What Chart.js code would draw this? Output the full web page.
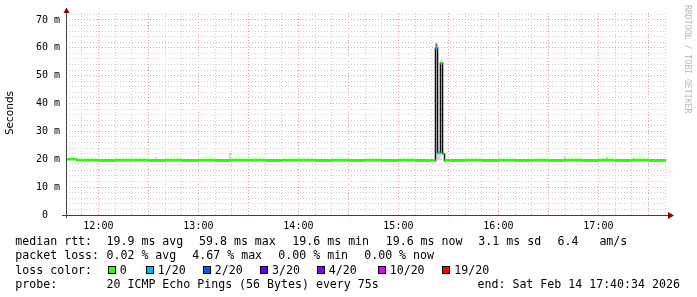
<!DOCTYPE html>
<html>
<head>
<meta charset="utf-8">
<script src="https://cdn.jsdelivr.net/npm/chart.js@4.4.1/dist/chart.umd.min.js"></script>
<style>
body { margin: 0; background: #fff; }
#wrap { position: relative; width: 697px; height: 297px; overflow: hidden; background: #fff; }
#grafico { position: absolute; left: 0; top: 0; }
.leg { position: absolute; font-family: 'DejaVu Sans Mono', monospace; font-size: 11.6px; line-height: 14px; color: #000; white-space: pre; }
.caixa { position: absolute; width: 6px; height: 6px; border: 1px solid #000; }
</style>
</head>
<body>
<div id="wrap">
    <canvas id="grafico" width="697" height="297"></canvas>
</div>
<script>
// janela do gráfico (6 horas)
const horaInicio = '11:40:34';
const horaFim = '17:40:34';

// mediana do rtt (ms) e pings perdidos (de 20), valor vale até a próxima hora
const medianaHoras = [
    '11:40:34', '11:47:00', '11:50:00', '12:00:00', '12:10:00', '12:20:00', '12:30:00', '12:40:00',
    '12:50:00', '13:00:00', '13:10:00', '13:20:00', '13:30:00', '13:40:00', '13:50:00', '14:00:00',
    '14:10:00', '14:20:00', '14:30:00', '14:40:00', '14:50:00', '15:00:00', '15:10:00', '15:20:00',
    '15:22:15', '15:23:30', '15:25:15', '15:26:30', '15:27:40', '15:30:00', '15:40:00', '15:50:00',
    '16:00:00', '16:10:00', '16:20:00', '16:30:00', '16:40:00', '16:50:00', '17:00:00', '17:10:00',
    '17:20:00', '17:30:00', '17:40:34'
];
const medianaValores = [
    20.0, 19.7, 19.7, 19.6, 19.7, 19.7, 19.6, 19.7,
    19.6, 19.7, 19.6, 19.7, 19.7, 19.6, 19.7, 19.7,
    19.6, 19.7, 19.6, 19.7, 19.6, 19.7, 19.6, 19.6,
    59.8, 22.4, 54.5, 22.0, 19.6, 19.6, 19.7, 19.6,
    19.7, 19.6, 19.7, 19.6, 19.7, 19.6, 19.7, 19.6,
    19.7, 19.6, 19.6
];
const medianaPerda = [
    0, 0, 0, 0, 0, 0, 0, 0,
    0, 0, 0, 0, 0, 0, 0, 0,
    0, 0, 0, 0, 0, 0, 0, 0,
    1, 1, 0, 0, 0, 0, 0, 0,
    0, 0, 0, 0, 0, 0, 0, 0,
    0, 0, 0
];

// "fumaça" (dispersão dos pings)
const fumacaClaraHoras = ['11:46:00', '12:34:30', '13:19:00', '15:22:50', '15:23:50', '15:24:50', '15:25:50', '16:39:40', '17:05:10', '17:21:20'];
const fumacaClaraMin = [19.9, 19.9, 20.0, 19.6, 19.6, 19.6, 54.5, 20.0, 19.9, 19.9];
const fumacaClaraMax = [20.5, 20.8, 22.3, 22.4, 22.4, 22.4, 55.6, 21.2, 20.8, 20.6];
const fumacaEscuraHoras = ['15:22:50'];
const fumacaEscuraMin = [59.8];
const fumacaEscuraMax = [61.6];

// eixos
const eixoXRotulos = ['12:00', '13:00', '14:00', '15:00', '16:00', '17:00'];
const eixoYRotulos = ['0  ', '10 m', '20 m', '30 m', '40 m', '50 m', '60 m', '70 m'];

// legenda
const perdaNiveis = [0, 1, 2, 3, 4, 10, 19];
const perdaRotulos = ['0', '1/20', '2/20', '3/20', '4/20', '10/20', '19/20'];
const perdaCores = ['#26ff00', '#00b8ff', '#0059ff', '#5e00ff', '#7e00ff', '#dd00ff', '#ff0000'];
const legendaMediana = ['median rtt:', '19.9 ms avg', '59.8 ms max', '19.6 ms min', '19.6 ms now', '3.1 ms sd', '6.4   am/s'];
const legendaPacotes = ['packet loss:', '0.02 % avg', '4.67 % max', '0.00 % min', '0.00 % now'];
const legendaSonda = ['probe:', '20 ICMP Echo Pings (56 Bytes) every 75s', 'end: Sat Feb 14 17:40:34 2026'];

function segundos(h) {
    const p = h.split(':').map(Number);
    return p[0] * 3600 + p[1] * 60 + (p[2] || 0);
}

function corDaPerda(perda) {
    let k = 0;
    perdaNiveis.forEach((n, i) => { if (perda >= n) k = i; });
    return k;
}

const inicio = segundos(horaInicio);
const fim = segundos(horaFim);

// 1. monta os datasets
const datasets = [];

perdaCores.forEach((cor, k) => {
    const pontos = [];
    for (let i = 0; i < medianaHoras.length - 1; i++) {
        if (corDaPerda(medianaPerda[i]) !== k) continue;
        pontos.push({ x: segundos(medianaHoras[i]), y: medianaValores[i] });
        pontos.push({ x: segundos(medianaHoras[i + 1]), y: medianaValores[i] });
        pontos.push({ x: segundos(medianaHoras[i + 1]), y: null });
    }
    if (pontos.length) {
        datasets.push({ data: pontos, borderColor: cor, borderWidth: 2.6, pointRadius: 0, spanGaps: false, order: 0 });
    }
});

datasets.push({
    data: medianaHoras.map((h, i) => ({ x: segundos(h), y: medianaValores[i] })),
    borderColor: '#111', borderWidth: 1.5, pointRadius: 0, stepped: true, order: 1
});

function fumaca(horas, mins, maxs, cor) {
    const pontos = [];
    horas.forEach((h, i) => {
        pontos.push({ x: segundos(h), y: mins[i] });
        pontos.push({ x: segundos(h), y: maxs[i] });
        pontos.push({ x: segundos(h), y: null });
    });
    return { data: pontos, borderColor: cor, borderWidth: 2, pointRadius: 0, spanGaps: false, order: 2 };
}
datasets.push(fumaca(fumacaClaraHoras, fumacaClaraMin, fumacaClaraMax, '#d6d6d6'));
datasets.push(fumaca(fumacaEscuraHoras, fumacaEscuraMin, fumacaEscuraMax, '#707070'));

// 2. eixos, setas, título e marca d'água
const extras = {
    id: 'extras',
    afterDatasetsDraw(chart) {
        const ctx = chart.ctx;
        const a = chart.chartArea;
        ctx.save();
        ctx.strokeStyle = '#404040';
        ctx.lineWidth = 1;
        ctx.beginPath();
        ctx.moveTo(a.left + 0.5, a.top - 2);
        ctx.lineTo(a.left + 0.5, a.bottom + 3);
        ctx.moveTo(a.left - 4, a.bottom + 0.5);
        ctx.lineTo(a.right + 3, a.bottom + 0.5);
        ctx.stroke();

        ctx.fillStyle = '#900000';
        ctx.beginPath();
        ctx.moveTo(a.left - 2.5, a.top);
        ctx.lineTo(a.left + 3.5, a.top);
        ctx.lineTo(a.left + 0.5, a.top - 5.5);
        ctx.closePath();
        ctx.fill();
        ctx.beginPath();
        ctx.moveTo(a.right + 2, a.bottom - 3);
        ctx.lineTo(a.right + 2, a.bottom + 4);
        ctx.lineTo(a.right + 8, a.bottom + 0.5);
        ctx.closePath();
        ctx.fill();

        ctx.fillStyle = '#000';
        ctx.font = '10.5px "DejaVu Sans"';
        ctx.textAlign = 'center';
        ctx.textBaseline = 'middle';
        ctx.translate(10, 113);
        ctx.rotate(-Math.PI / 2);
        ctx.fillText('Seconds', 0, 0);
        ctx.restore();

        ctx.save();
        ctx.fillStyle = '#b8b8b8';
        ctx.font = '8.2px "DejaVu Sans Mono"';
        ctx.textAlign = 'left';
        ctx.textBaseline = 'middle';
        ctx.translate(687, 5);
        ctx.rotate(Math.PI / 2);
        ctx.fillText('RRDTOOL / TOBI OETIKER', 0, 0);
        ctx.restore();
    }
};

const vermelho = '#eaa0a0';
const cinza = '#cdcdcd';

new Chart(document.getElementById('grafico'), {
    type: 'line',
    data: { datasets: datasets },
    options: {
        responsive: false,
        animation: false,
        events: [],
        layout: { padding: { top: 13, right: 31, left: 0, bottom: 0 } },
        plugins: { legend: { display: false }, tooltip: { enabled: false } },
        scales: {
            x: {
                type: 'linear',
                min: inicio,
                max: fim,
                offset: false,
                afterBuildTicks: s => {
                    const t = [];
                    for (let v = Math.ceil(inicio / 600) * 600; v <= fim; v += 600) t.push({ value: v });
                    s.ticks = t;
                },
                afterFit: s => { s.height = 82; },
                grid: {
                    offset: false,
                    drawTicks: false,
                    color: c => (c.tick && c.tick.value % 1800 === 0) ? vermelho : cinza
                },
                border: { display: false, dash: [1, 2] },
                ticks: {
                    autoSkip: false,
                    maxRotation: 0,
                    padding: 5,
                    color: '#000',
                    font: { family: 'DejaVu Sans Mono', size: 10 },
                    callback: v => {
                        const r = eixoXRotulos.find(l => segundos(l) === v);
                        return r || '';
                    }
                }
            },
            y: {
                min: 0,
                max: 72.5,
                afterBuildTicks: s => {
                    const t = [];
                    for (let v = 0; v <= 72; v += 2) t.push({ value: v });
                    s.ticks = t;
                },
                afterFit: s => { s.width = 66; },
                grid: {
                    drawTicks: false,
                    color: c => (c.tick && c.tick.value % 10 === 0) ? vermelho : cinza
                },
                border: { display: false, dash: [1, 2] },
                ticks: {
                    autoSkip: false,
                    padding: 6,
                    color: '#000',
                    font: { family: 'DejaVu Sans Mono', size: 10 },
                    callback: v => (v % 10 === 0 ? eixoYRotulos[v / 10] : '')
                }
            }
        }
    },
    plugins: [extras]
});

// 3. legenda em texto
const wrap = document.getElementById('wrap');
function texto(t, x, y) {
    const el = document.createElement('div');
    el.className = 'leg';
    el.style.left = x + 'px';
    el.style.top = y + 'px';
    el.textContent = t;
    wrap.appendChild(el);
}

const linhas = [234, 248.3, 262.6, 276.9];
const colMediana = [15.3, 106.5, 199, 292.3, 385.7, 478.3, 557.5];
const colPacotes = [15.3, 106.5, 192.3, 278.3, 364.2];
const colCaixas = [107.7, 145.7, 202.7, 260, 316.7, 377.7, 442.3];
const colSonda = [15.3, 106.5, 477.5];

legendaMediana.forEach((t, i) => texto(t, colMediana[i], linhas[0]));
legendaPacotes.forEach((t, i) => texto(t, colPacotes[i], linhas[1]));
texto('loss color:', 15.3, linhas[2]);
perdaRotulos.forEach((t, i) => {
    const c = document.createElement('div');
    c.className = 'caixa';
    c.style.left = colCaixas[i] + 'px';
    c.style.top = '266px';
    c.style.background = perdaCores[i];
    wrap.appendChild(c);
    texto(t, colCaixas[i] + 12, linhas[2]);
});
legendaSonda.forEach((t, i) => texto(t, colSonda[i], linhas[3]));
</script>
</body>
</html>
